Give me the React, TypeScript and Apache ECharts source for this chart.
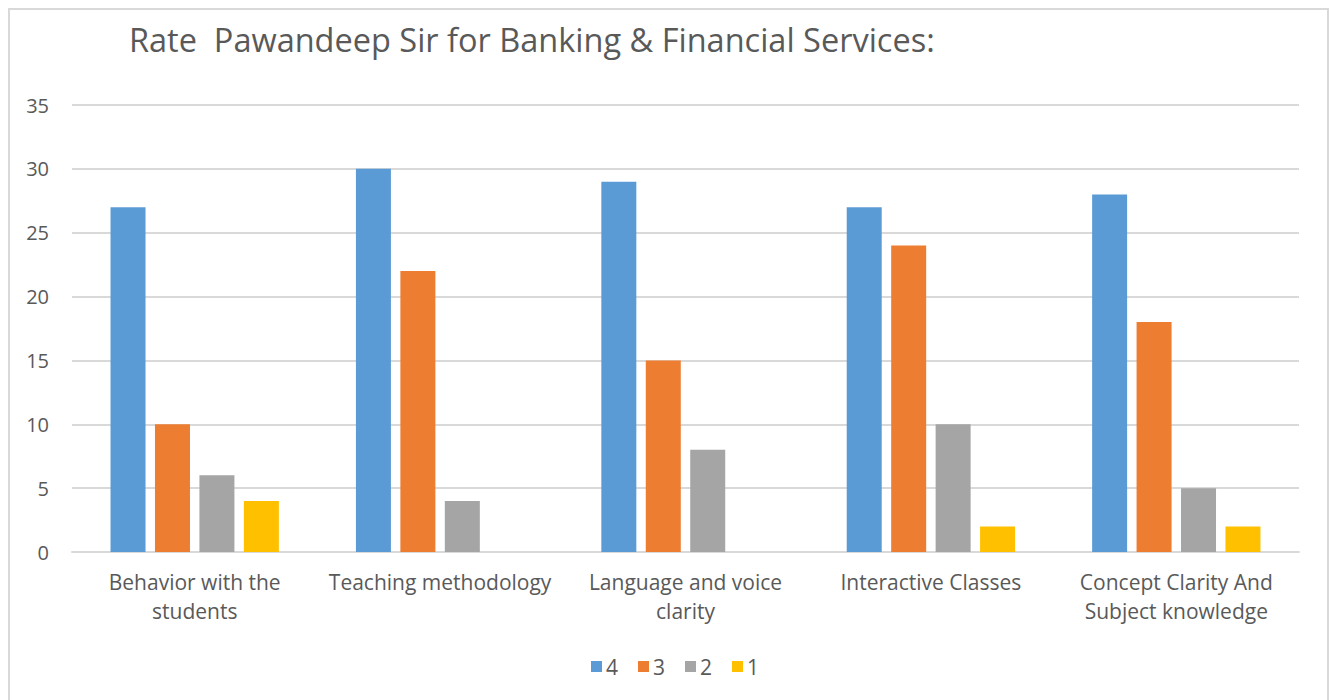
import React, { useEffect, useRef } from "react";
import * as echarts from "echarts";

const categories = [
  "Behavior with the\nstudents",
  "Teaching methodology",
  "Language and voice\nclarity",
  "Interactive Classes",
  "Concept Clarity And\nSubject knowledge",
];
const seriesNames = ["4", "3", "2", "1"];
const rating4 = [27, 30, 29, 27, 28];
const rating3 = [10, 22, 15, 24, 18];
const rating2 = [6, 4, 8, 10, 5];
const rating1 = [4, 0, 0, 2, 2];
const colors = ["#5B9BD5", "#ED7D31", "#A5A5A5", "#FFC000"];
const titleText = "Rate  Pawandeep Sir for Banking & Financial Services:";

const FONT = "Open Sans";
const TXT = "#595959";

export default function App() {
  const ref = useRef<HTMLDivElement>(null);
  useEffect(() => {
    if (!ref.current) return;
    const chart = echarts.init(ref.current, null, { renderer: "svg" });
    const values = [rating4, rating3, rating2, rating1];
    chart.setOption({
      animation: false,
      backgroundColor: "#ffffff",
      color: colors,
      title: {
        text: titleText,
        left: 124,
        top: 18,
        textStyle: { fontFamily: FONT, fontSize: 32.5, fontWeight: "normal", color: TXT },
      },
      legend: {
        data: seriesNames,
        bottom: 18,
        left: 586,
        padding: 5,
        itemWidth: 11,
        itemHeight: 11,
        itemGap: 20,
        icon: "rect",
        textStyle: { fontFamily: FONT, fontSize: 21, color: TXT, padding: [0, 0, 0, -1] },
      },
      grid: { left: 72, right: 34, top: 105, bottom: 148 },
      xAxis: {
        type: "category",
        data: categories,
        axisLine: { lineStyle: { color: "#d9d9d9", width: 2 } },
        axisTick: { show: false },
        axisLabel: {
          fontFamily: FONT,
          fontSize: 21,
          color: TXT,
          lineHeight: 29,
          margin: 15,
          interval: 0,
        },
      },
      yAxis: {
        type: "value",
        min: 0,
        max: 35,
        interval: 5,
        axisLine: { show: false },
        axisTick: { show: false },
        splitLine: { lineStyle: { color: "#d9d9d9", width: 2 } },
        axisLabel: { fontFamily: FONT, fontSize: 20, color: TXT, margin: 23 },
      },
      series: seriesNames.map((n, i) => ({
        name: n,
        type: "bar",
        data: values[i],
        barWidth: 35,
        barGap: "27%",
        itemStyle: { color: colors[i] },
      })),
    });
    return () => chart.dispose();
  }, []);
  return (
    <>
      <div
        ref={ref}
        style={{ position: "fixed", left: 0, top: 0, width: 1333, height: 700 }}
      />
      <div
        style={{
          position: "fixed",
          left: 8,
          top: 8,
          width: 1321,
          height: 710,
          border: "2px solid #d9d9d9",
          boxSizing: "border-box",
          pointerEvents: "none",
        }}
      />
    </>
  );
}
